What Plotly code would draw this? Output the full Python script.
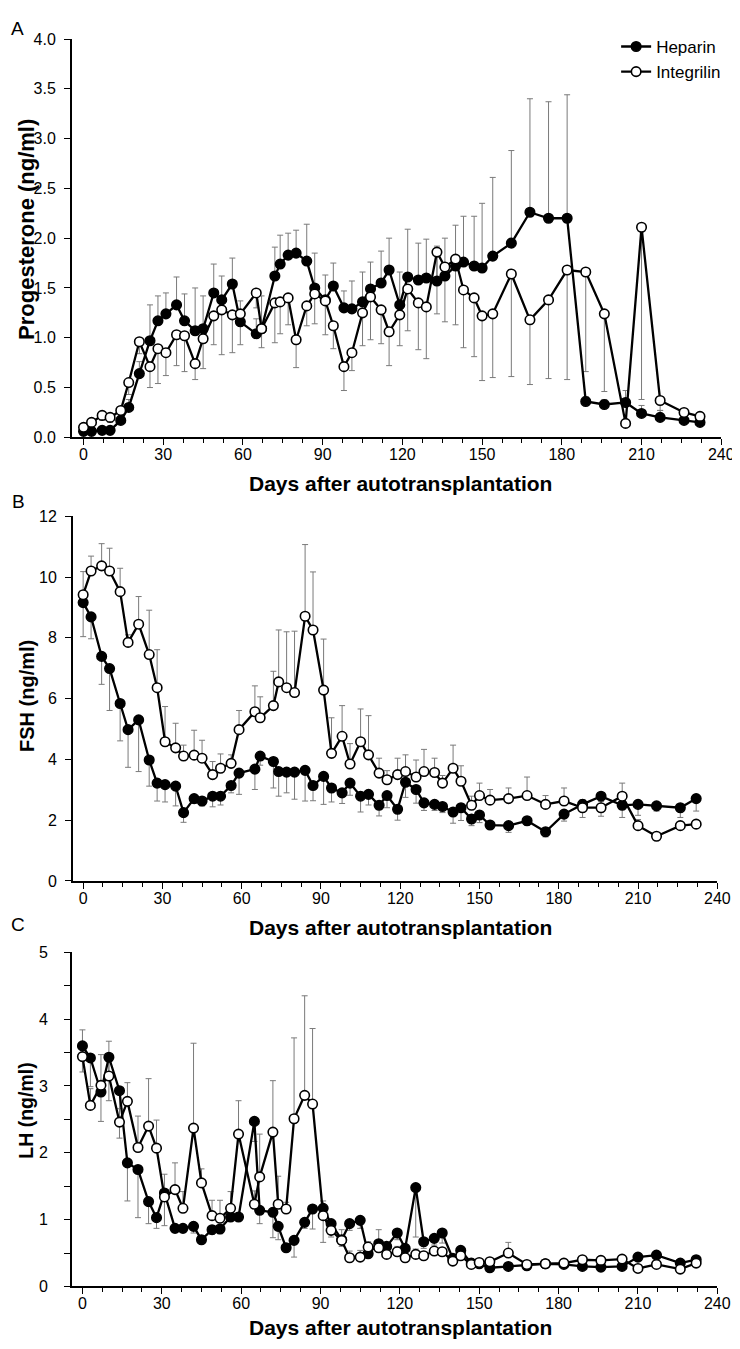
import plotly.graph_objects as go

# ---------------- data ----------------
days = [0, 3, 7, 10, 14, 17, 21, 25, 28, 31, 35, 38, 42, 45, 49, 52, 56, 59, 65, 67,
        72, 74, 77, 80, 84, 87, 91, 94, 98, 101, 105, 108, 112, 115, 119, 122, 126, 129, 133, 136,
        140, 143, 147, 150, 154, 161, 168, 175, 182, 189, 196, 204, 210, 217, 226, 232]

# Panel A: Progesterone (ng/ml)
prog_heparin = [0.06, 0.06, 0.07, 0.07, 0.17, 0.30, 0.64, 0.97, 1.17, 1.24,
                1.33, 1.17, 1.07, 1.09, 1.45, 1.38, 1.54, 1.16, 1.04, 1.09,
                1.62, 1.74, 1.83, 1.85, 1.77, 1.50, 1.38, 1.52, 1.30, 1.29,
                1.36, 1.49, 1.55, 1.68, 1.33, 1.61, 1.58, 1.60, 1.57, 1.62,
                1.72, 1.76, 1.72, 1.70, 1.82, 1.95, 2.26, 2.20, 2.20, 0.36,
                0.33, 0.35, 0.24, 0.20, 0.17, 0.15]
prog_integrilin = [0.10, 0.15, 0.22, 0.20, 0.27, 0.55, 0.96, 0.71, 0.89, 0.85,
                   1.03, 1.02, 0.74, 0.99, 1.22, 1.28, 1.23, 1.24, 1.45, 1.09,
                   1.35, 1.36, 1.40, 0.98, 1.32, 1.44, 1.37, 1.12, 0.71, 0.85,
                   1.25, 1.41, 1.28, 1.06, 1.23, 1.49, 1.35, 1.31, 1.86, 1.71,
                   1.79, 1.48, 1.40, 1.22, 1.24, 1.64, 1.18, 1.38, 1.68, 1.66,
                   1.24, 0.14, 2.11, 0.37, 0.25, 0.21]
prog_heparin_err = [0.02, 0.02, 0.02, 0.02, 0.05, 0.08, 0.12, 0.36, 0.25, 0.21,
                    0.28, 0.27, 0.43, 0.33, 0.29, 0.24, 0.26, 0.21, 0.15, 0.33,
                    0.29, 0.29, 0.22, 0.23, 0.37, 0.35, 0.25, 0.23, 0.17, 0.28,
                    0.30, 0.27, 0.32, 0.32, 0.33, 0.48, 0.37, 0.39, 0.35, 0.38,
                    0.41, 0.46, 0.50, 0.65, 0.79, 0.93, 1.14, 1.17, 1.24, 0.05,
                    0.05, 0.12, 0.08, 0.07, 0.03, 0.03]
prog_integrilin_err = [0.03, 0.04, 0.05, 0.05, 0.06, 0.12, 0.12, 0.21, 0.35, 0.23,
                       0.31, 0.36, 0.16, 0.30, 0.29, 0.45, 0.38, 0.31, 0.15, 0.19,
                       0.40, 0.32, 0.27, 0.28, 0.20, 0.30, 0.34, 0.23, 0.24, 0.18,
                       0.33, 0.43, 0.34, 0.34, 0.31, 0.42, 0.47, 0.52, 0.62, 0.55,
                       0.66, 0.58, 0.59, 0.65, 0.64, 1.03, 0.65, 0.79, 1.10, 1.00,
                       0.78, 0.03, 1.73, 0.10, 0.05, 0.04]

# Panel B: FSH (ng/ml)
fsh_heparin = [9.16, 8.69, 7.39, 6.99, 5.84, 4.98, 5.30, 3.98, 3.22, 3.17,
               3.12, 2.25, 2.71, 2.63, 2.79, 2.79, 3.14, 3.55, 3.68, 4.11,
               3.93, 3.60, 3.58, 3.58, 3.64, 3.14, 3.44, 3.06, 2.90, 3.22,
               2.79, 2.85, 2.49, 2.81, 2.36, 3.25, 3.01, 2.57, 2.52, 2.45,
               2.27, 2.41, 2.04, 2.17, 1.84, 1.82, 1.98, 1.62, 2.20, 2.52,
               2.79, 2.49, 2.52, 2.47, 2.41, 2.71]
fsh_integrilin = [9.42, 10.20, 10.37, 10.20, 9.52, 7.85, 8.45, 7.45, 6.36, 4.58,
                  4.38, 4.11, 4.14, 4.04, 3.50, 3.71, 3.87, 4.98, 5.57, 5.37,
                  5.77, 6.55, 6.36, 6.20, 8.71, 8.26, 6.28, 4.20, 4.76, 3.85,
                  4.58, 4.15, 3.55, 3.33, 3.50, 3.60, 3.42, 3.60, 3.57, 3.22,
                  3.71, 3.28, 2.49, 2.81, 2.66, 2.71, 2.81, 2.52, 2.63, 2.41,
                  2.41, 2.79, 1.82, 1.47, 1.82, 1.87]
fsh_heparin_err = [1.12, 0.72, 0.92, 1.38, 1.23, 1.24, 1.70, 0.86, 0.59, 0.57,
                   0.65, 0.32, 0.16, 0.16, 0.35, 0.29, 0.24, 0.70, 0.67, 0.30,
                   0.87, 0.81, 0.68, 0.89, 1.01, 0.50, 0.92, 0.46, 0.35, 0.40,
                   0.52, 0.35, 0.35, 0.40, 0.36, 0.50, 0.45, 0.25, 0.20, 0.20,
                   0.37, 0.42, 0.22, 0.25, 0.10, 0.22, 0.15, 0.17, 0.23, 0.43,
                   0.66, 0.40, 0.36, 0.17, 0.32, 0.41]
fsh_integrilin_err = [0.76, 0.49, 0.73, 0.75, 0.77, 0.25, 0.91, 1.46, 1.25, 1.16,
                      0.81, 0.36, 0.82, 0.59, 0.43, 0.47, 0.28, 0.63, 0.85, 0.69,
                      1.13, 1.71, 1.84, 2.02, 2.36, 1.91, 1.68, 1.17, 1.01, 0.67,
                      1.08, 1.29, 0.49, 0.30, 0.54, 0.55, 0.56, 0.73, 0.47, 0.25,
                      0.76, 0.51, 0.30, 0.41, 0.35, 0.35, 0.61, 0.29, 0.43, 0.27,
                      0.20, 0.43, 0.20, 0.10, 0.10, 0.10]

# Panel C: LH (ng/ml)
lh_heparin = [3.60, 3.42, 2.91, 3.43, 2.93, 1.85, 1.75, 1.27, 1.03, 1.40,
              0.87, 0.87, 0.90, 0.70, 0.85, 0.86, 1.04, 1.04, 2.47, 1.14,
              1.11, 0.90, 0.58, 0.69, 0.96, 1.16, 1.17, 0.94, 0.70, 0.94,
              0.99, 0.49, 0.64, 0.60, 0.80, 0.57, 1.48, 0.67, 0.72, 0.80,
              0.42, 0.54, 0.35, 0.34, 0.28, 0.30, 0.31, 0.34, 0.33, 0.30,
              0.29, 0.30, 0.44, 0.47, 0.35, 0.40]
lh_integrilin = [3.44, 2.71, 3.01, 3.15, 2.46, 2.77, 2.08, 2.40, 2.07, 1.34,
                 1.45, 1.17, 2.37, 1.55, 1.06, 1.02, 1.17, 2.28, 1.23, 1.64,
                 2.31, 1.23, 1.16, 2.51, 2.86, 2.73, 1.06, 0.84, 0.69, 0.43,
                 0.44, 0.59, 0.58, 0.48, 0.52, 0.43, 0.48, 0.46, 0.53, 0.52,
                 0.38, 0.46, 0.33, 0.36, 0.37, 0.50, 0.33, 0.34, 0.35, 0.40,
                 0.39, 0.41, 0.27, 0.33, 0.26, 0.35]
lh_heparin_err = [0.39, 0.43, 0.44, 0.65, 0.71, 0.57, 0.72, 0.33, 0.16, 0.49,
                  0.06, 0.06, 0.10, 0.05, 0.07, 0.07, 0.06, 0.05, 0.30, 0.20,
                  0.38, 0.20, 0.05, 0.25, 0.09, 0.30, 0.51, 0.20, 0.10, 0.10,
                  0.12, 0.05, 0.05, 0.05, 0.10, 0.05, 0.74, 0.10, 0.10, 0.15,
                  0.05, 0.10, 0.03, 0.03, 0.03, 0.03, 0.03, 0.03, 0.03, 0.03,
                  0.03, 0.03, 0.03, 0.03, 0.03, 0.03]
lh_integrilin_err = [0.40, 0.25, 0.46, 0.52, 0.20, 0.28, 0.47, 0.71, 0.42, 0.34,
                     0.40, 0.25, 1.27, 0.21, 0.23, 0.27, 0.25, 0.50, 0.20, 0.64,
                     0.77, 0.42, 0.10, 1.21, 1.49, 1.13, 0.22, 0.10, 0.16, 0.10,
                     0.10, 0.08, 0.27, 0.05, 0.08, 0.05, 0.08, 0.05, 0.05, 0.05,
                     0.05, 0.05, 0.03, 0.03, 0.03, 0.16, 0.03, 0.03, 0.03, 0.03,
                     0.03, 0.03, 0.03, 0.03, 0.03, 0.03]

x_ticks = [0, 30, 60, 90, 120, 150, 180, 210, 240]
series_names = ["Heparin", "Integrilin"]
y_titles = ["Progesterone (ng/ml)", "FSH (ng/ml)", "LH (ng/ml)"]
x_title = "Days after autotransplantation"
panel_letters = ["A", "B", "C"]

# ---------------- figure ----------------
W, H = 740, 1349
FONT = "Liberation Sans, Arial, Helvetica, sans-serif"
ERR_COLOR = "#7a7a7a"
TICK_SIZE = 16


def fx(p):
    return p / W


def fy(p):
    return 1 - p / H


zeros = [0] * len(days)

panels = [
    # (xaxis, yaxis, heparin, integrilin, hep up, hep down, int up, int down)
    ("x", "y", prog_heparin, prog_integrilin, prog_heparin_err, zeros, zeros, prog_integrilin_err),
    ("x2", "y2", fsh_heparin, fsh_integrilin, zeros, fsh_heparin_err, fsh_integrilin_err, zeros),
    ("x3", "y3", lh_heparin, lh_integrilin, zeros, lh_heparin_err, lh_integrilin_err, zeros),
]

fig = go.Figure()

for i, (xa, ya, hep, integ, hu, hd, iu, idn) in enumerate(panels):
    # error bars first (drawn underneath)
    for yy, up, dn in ((hep, hu, hd), (integ, iu, idn)):
        fig.add_trace(go.Scatter(
            x=days, y=yy, mode="markers", xaxis=xa, yaxis=ya,
            marker=dict(size=1, opacity=0),
            error_y=dict(type="data", symmetric=False, array=up, arrayminus=dn,
                         color=ERR_COLOR, thickness=1, width=3),
            showlegend=False, hoverinfo="skip"))
    fig.add_trace(go.Scatter(
        x=days, y=hep, mode="lines+markers", name=series_names[0], xaxis=xa, yaxis=ya,
        line=dict(color="black", width=2.3),
        marker=dict(symbol="circle", size=9.5, color="black", line=dict(color="black", width=1.6)),
        showlegend=(i == 0)))
    fig.add_trace(go.Scatter(
        x=days, y=integ, mode="lines+markers", name=series_names[1], xaxis=xa, yaxis=ya,
        line=dict(color="black", width=2.3),
        marker=dict(symbol="circle", size=9.5, color="white", line=dict(color="black", width=1.6)),
        showlegend=(i == 0)))


def xaxis_cfg(x0, x1, xmin, anchor):
    return dict(domain=[fx(x0), fx(x1)], range=[xmin, 240], anchor=anchor,
                tickmode="array", tickvals=x_ticks, ticks="outside", ticklen=6, tickwidth=1.4,
                tickcolor="black", showline=True, linecolor="black", linewidth=1.6,
                showgrid=False, zeroline=False,
                tickfont=dict(family=FONT, size=TICK_SIZE, color="black"),
                ticklabelstandoff=-4,
                minor=dict(tickmode="linear", tick0=0, dtick=7.5, ticks="outside", ticklen=4,
                           tickwidth=1.1, tickcolor="black", showgrid=False),
                fixedrange=True)


def yaxis_cfg(y_top, y_bot, rng, dtick, fmt, minor_dtick, anchor, standoff):
    cfg = dict(domain=[fy(y_bot), fy(y_top)], range=rng, anchor=anchor,
               tickmode="linear", tick0=0, dtick=dtick, tickformat=fmt,
               ticks="outside", ticklen=6, tickwidth=1.4, tickcolor="black",
               showline=True, linecolor="black", linewidth=1.6,
               showgrid=False, zeroline=False,
               tickfont=dict(family=FONT, size=TICK_SIZE, color="black"),
               ticklabelstandoff=standoff, fixedrange=True)
    if minor_dtick:
        cfg["minor"] = dict(tickmode="linear", tick0=0, dtick=minor_dtick, ticks="outside",
                            ticklen=6, tickwidth=1.4, tickcolor="black", showgrid=False)
    return cfg


annotations = []
# panel letters
for letter, (lx, ly) in zip(panel_letters, [(10, 13), (11, 492), (10, 920)]):
    annotations.append(dict(text=letter, x=fx(lx), y=fy(ly), xref="paper", yref="paper",
                            showarrow=False, xanchor="center", yanchor="middle",
                            font=dict(family=FONT, size=19, color="black")))
# y titles
for t, (tx, ty, fs) in zip(y_titles, [(19, 216, 22), (20, 689, 20), (18, 1109, 19.5)]):
    annotations.append(dict(text="<b>%s</b>" % t, x=fx(tx), y=fy(ty), xref="paper", yref="paper",
                            showarrow=False, textangle=-90, xanchor="center", yanchor="middle",
                            font=dict(family=FONT, size=fs, color="black")))
# x titles
for ty in (473, 923, 1328):
    annotations.append(dict(text="<b>%s</b>" % x_title, x=fx(400), y=fy(ty), xref="paper", yref="paper",
                            showarrow=False, xanchor="center", yanchor="middle",
                            font=dict(family=FONT, size=21, color="black")))

fig.update_layout(
    width=W, height=H,
    margin=dict(l=0, r=0, t=0, b=0),
    paper_bgcolor="white", plot_bgcolor="white",
    font=dict(family=FONT, size=15, color="black"),
    xaxis=xaxis_cfg(65, 726, -4.4, "y"),
    yaxis=yaxis_cfg(23.3, 426.7, [0, 4], 0.5, ".1f", None, "x", 5),
    xaxis2=xaxis_cfg(66, 722, -3.9, "y2"),
    yaxis2=yaxis_cfg(506.7, 876, [0, 12], 2, "d", None, "x2", 5),
    xaxis3=xaxis_cfg(65, 722, -4.0, "y3"),
    yaxis3=yaxis_cfg(948.3, 1286.7, [0, 5], 1, "d", 0.5, "x3", 13),
    showlegend=True,
    legend=dict(x=fx(619), y=fy(44), xref="paper", yref="paper",
                xanchor="left", yanchor="middle",
                bgcolor="rgba(0,0,0,0)", borderwidth=0, tracegroupgap=0,
                font=dict(family=FONT, size=17, color="black")),
    annotations=annotations,
)

fig.write_html("out.html")
